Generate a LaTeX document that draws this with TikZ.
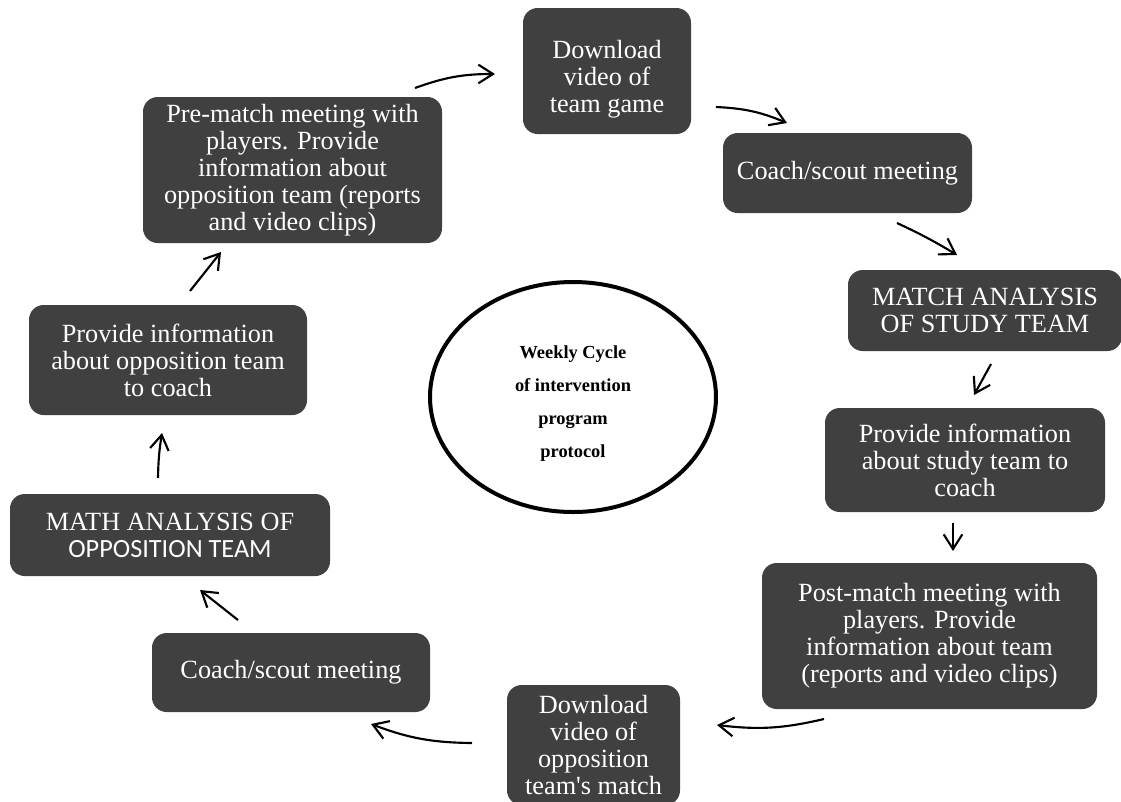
\documentclass[tikz,border=0pt]{standalone}
\usepackage{fontspec}
\setmainfont{Liberation Serif}[Ligatures=TeXOff]
\newfontfamily\carlitofont{Carlito}
\usetikzlibrary{arrows.meta,shapes.geometric}
\definecolor{boxgray}{RGB}{64,64,64}
\begin{document}
\begin{tikzpicture}[x=0.75pt,y=-0.75pt,
  box/.style={rectangle, rounded corners=11pt, fill=boxgray, text=white, align=center,
    font=\fontsize{19.7}{20.25}\selectfont, inner sep=0pt},
  boxtext/.style={text=white, align=center, font=\fontsize{19.7}{20.25}\selectfont, inner sep=0pt},
  flow/.style={line width=1.6pt, -{Straight Barb[length=11pt,width=14pt]}}]
\useasboundingbox (0,0) rectangle (1121,801);
\node[box, minimum width=126pt, minimum height=94.5pt] (n1) at (607,71) {};
\node[boxtext] (n1t) at (607,79) {Download\\video of\\team game};
\node[box, minimum width=186.75pt, minimum height=60pt] (n2) at (847.5,173) {Coach/scout meeting};
\node[box, minimum width=205.5pt, minimum height=60.75pt] (n3) at (985,310.5) {MATCH ANALYSIS\\OF STUDY TEAM};
\node[box, minimum width=210pt, minimum height=78pt] (n4) at (965,460) {Provide information\\about study team to\\coach};
\node[box, minimum width=251.25pt, minimum height=109.5pt] (n5) at (929.5,636) {Post-match meeting with\\players. Provide\\information about team\\(reports and video clips)};
\node[box, minimum width=129.75pt, minimum height=90pt] (n6) at (593.5,745) {Download\\video of\\opposition\\team's match};
\node[box, minimum width=208.5pt, minimum height=59.25pt] (n7) at (291,672.5) {Coach/scout meeting};
\node[box, minimum width=240pt, minimum height=61.5pt] (n8) at (170,535) {MATH ANALYSIS OF\\{\carlitofont OPPOSITION TEAM}};
\node[box, minimum width=208.5pt, minimum height=82.5pt] (n9) at (168,360) {Provide information\\about opposition team\\to coach};
\node[box, minimum width=224.25pt, minimum height=109.5pt] (n10) at (292.5,170) {Pre-match meeting with\\players. Provide\\information about\\opposition team (reports\\and video clips)};
\node[ellipse, draw=black, line width=3pt, minimum width=214.5pt, minimum height=172.5pt] (c) at (573,397) {};
\node[align=center, inner sep=0pt, font=\bfseries\fontsize{13.8}{24.75}\selectfont] (ct) at (573,404)
  {Weekly Cycle\\of intervention\\program\\protocol};
\coordinate (a1s) at (415,88);  \coordinate (a1e) at (495,74);
\coordinate (a2s) at (716,107); \coordinate (a2e) at (787,123);
\coordinate (a3s) at (897,223); \coordinate (a3e) at (957,255);
\coordinate (a4s) at (991,364); \coordinate (a4e) at (974,395);
\coordinate (a5s) at (953,523); \coordinate (a5e) at (953,551);
\coordinate (a6s) at (824,719); \coordinate (a6e) at (717,725);
\coordinate (a7s) at (472,743); \coordinate (a7e) at (371,724);
\coordinate (a8s) at (238,620); \coordinate (a8e) at (200,590);
\coordinate (a9s) at (158,478); \coordinate (a9e) at (162,433);
\coordinate (a10s) at (190,291); \coordinate (a10e) at (221,252);
\draw[flow] (a1s) to[bend left=10] (a1e);
\draw[flow] (a2s) to[bend left=10] (a2e);
\draw[flow] (a3s) to[bend left=3] (a3e);
\draw[flow] (a4s) -- (a4e);
\draw[flow] (a5s) -- (a5e);
\draw[flow] (a6s) to[bend left=10] (a6e);
\draw[flow] (a7s) to[bend left=10] (a7e);
\draw[flow] (a8s) -- (a8e);
\draw[flow] (a9s) to[bend left=4] (a9e);
\draw[flow] (a10s) -- (a10e);
\end{tikzpicture}
\end{document}
